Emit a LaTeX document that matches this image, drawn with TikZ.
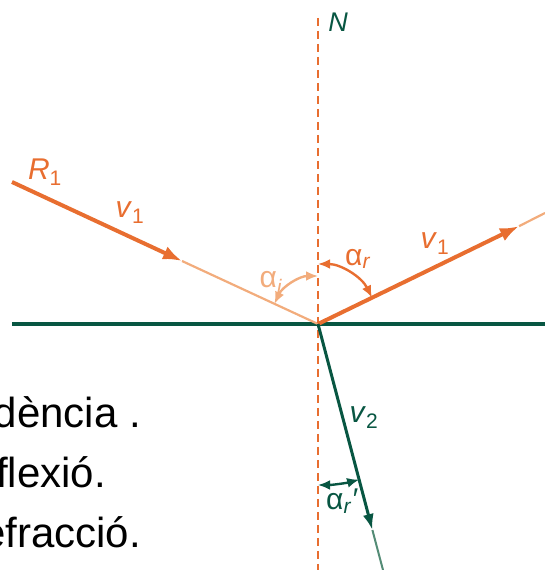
\documentclass[tikz,border=0pt]{standalone}
\usepackage{fontspec}
\setmainfont{Liberation Sans}
\usetikzlibrary{arrows.meta,calc}
\definecolor{rayorange} {RGB}{232,110, 48}
\definecolor{raylight}  {RGB}{242,172,124}
\definecolor{surfgreen} {RGB}{  8, 86, 66}
\definecolor{greenlight}{RGB}{ 84,140,118}
\tikzset{
  %% thick ray segment that ends in an arrowhead
  ray/.style={
    draw=rayorange, line width=4pt,
    -{Latex[length=19pt,width=14pt]}
  },
  %% thin, lighter rest of a ray
  raytail/.style={draw=raylight, line width=2.2pt},
  refray/.style={
    draw=surfgreen, line width=3pt,
    -{Latex[length=16pt,width=11pt]}
  },
  refrtail/.style={draw=greenlight, line width=2pt},
  surface/.style={draw=surfgreen, line width=3.2pt},
  normal/.style={
    draw=rayorange, line width=2.8pt,
    dash pattern=on 8pt off 5pt
  },
  anglearc/.style={
    line width=2.4pt,
    {Latex[length=12pt,width=10pt]}-{Latex[length=12pt,width=10pt]}
  },
  lbl/.style={font=\fontsize{30}{32}\selectfont, inner sep=0pt},
  textline/.style={font=\fontsize{42}{44}\selectfont, anchor=base east,
    inner sep=0pt, text=black},
}

\begin{document}
\begin{tikzpicture}[x=1pt, y=1pt, line cap=butt, line join=round]

  %% ── Frame ─────────────────────────────────────────────────────────────
  \useasboundingbox (0,0) rectangle (545,570);
  \clip (0,0) rectangle (545,570);

  %% ── Points ────────────────────────────────────────────────────────────
  \coordinate (O)        at (318,246);
  \coordinate (Ntop)     at (318,552);
  \coordinate (Nbot)     at (318,0);
  \coordinate (surfL)    at (12,246);
  \coordinate (surfR)    at (545,246);
  \coordinate (incStart) at (12,388);
  \coordinate (incTip)   at (182,309);
  \coordinate (reflTip)  at (519,343.8);
  \coordinate (reflEnd)  at (545,357);
  \coordinate (refrTip)  at (372.4,40);
  \coordinate (refrEnd)  at (383,0);

  %% ── Normal and surface ────────────────────────────────────────────────
  \draw[normal]  (Ntop) -- (Nbot);
  \draw[surface] (surfL) -- (surfR);

  %% ── Incident ray ──────────────────────────────────────────────────────
  \draw[raytail] (incTip) -- (O);
  \draw[ray]     (incStart) -- (incTip);

  %% ── Reflected ray ─────────────────────────────────────────────────────
  \draw[raytail] (reflTip) -- (reflEnd);
  \draw[ray]     (O) -- (reflTip);

  %% ── Refracted ray ─────────────────────────────────────────────────────
  \draw[refrtail] (refrTip) -- (refrEnd);
  \draw[refray]   (O) -- (refrTip);

  %% ── Angles ────────────────────────────────────────────────────────────
  \draw[anglearc, raylight]
        ([shift={(155.1:48)}]O) arc[start angle=155.1, end angle=90, radius=48];
  \draw[anglearc, rayorange]
        ([shift={(90:60)}]O) arc[start angle=90, end angle=26.05, radius=60];
  \draw[anglearc, surfgreen]
        ([shift={(-90:161)}]O) arc[start angle=-90, end angle=-75.2, radius=161];

  %% ── Labels ────────────────────────────────────────────────────────────
  \node[lbl, text=surfgreen, font=\fontsize{27}{29}\selectfont\itshape]
        (nlabel) at (338,548) {N};
  \node[lbl, text=rayorange] (r1)  at (45,398) {\textit{R}\textsubscript{1}};
  \node[lbl, text=rayorange] (v1i) at (130,357) {\textit{v}\textsubscript{1}};
  \node[lbl, text=raylight]  (ai)  at (271,287) {α\textsubscript{\textit{i}}};
  \node[lbl, text=rayorange] (ar)  at (358,311) {α\textsubscript{\textit{r}}};
  \node[lbl, text=rayorange] (v1r) at (435,326) {\textit{v}\textsubscript{1}};
  \node[lbl, text=surfgreen] (v2)  at (364,152) {\textit{v}\textsubscript{2}};
  \node[lbl, text=surfgreen] (arp) at (342,69)
        {α\textsubscript{\textit{r}}\kern-0.5pt\textit{′}};

  %% ── Cut-off text on the left ──────────────────────────────────────────
  \node[textline] (line1) at (141,142) {dència .};
  \node[textline] (line2) at (106,82)  {flexió.};
  \node[textline] (line3) at (141,22)  {efracció.};

\end{tikzpicture}
\end{document}
